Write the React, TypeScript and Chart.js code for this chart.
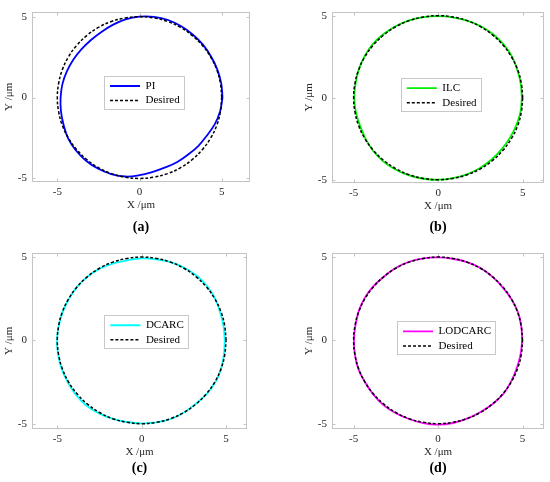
import React, { useEffect, useRef } from 'react';
import { Chart, registerables } from 'chart.js';

Chart.register(...registerables);

// ---------- data ----------
const tickValues = [-5, 0, 5];
const panelLabels = ['(a)', '(b)', '(c)', '(d)'];
const seriesNames = ['PI', 'ILC', 'DCARC', 'LODCARC'];
const desiredName = 'Desired';

const desiredX = [5, 4.92, 4.70, 4.33, 3.83, 3.21, 2.50, 1.71, 0.87, 0, -0.87, -1.71, -2.50, -3.21, -3.83, -4.33, -4.70, -4.92, -5, -4.92, -4.70, -4.33, -3.83, -3.21, -2.50, -1.71, -0.87, 0, 0.87, 1.71, 2.50, 3.21, 3.83, 4.33, 4.70, 4.92];
const desiredY = [0, 0.87, 1.71, 2.50, 3.21, 3.83, 4.33, 4.70, 4.92, 5, 4.92, 4.70, 4.33, 3.83, 3.21, 2.50, 1.71, 0.87, 0, -0.87, -1.71, -2.50, -3.21, -3.83, -4.33, -4.70, -4.92, -5, -4.92, -4.70, -4.33, -3.83, -3.21, -2.50, -1.71, -0.87];

const piX = [5.05, 4.97, 4.74, 4.36, 3.87, 3.25, 2.54, 1.74, 0.88, 0, -0.85, -1.63, -2.34, -2.97, -3.54, -4.03, -4.42, -4.69, -4.80, -4.78, -4.62, -4.35, -3.88, -3.27, -2.54, -1.72, -0.86, 0, 0.81, 1.57, 2.30, 2.96, 3.57, 4.09, 4.57, 4.90];
const piY = [0, 0.88, 1.72, 2.52, 3.25, 3.88, 4.40, 4.79, 4.99, 5.00, 4.83, 4.49, 4.04, 3.54, 2.97, 2.33, 1.61, 0.83, 0, -0.84, -1.68, -2.51, -3.26, -3.89, -4.39, -4.73, -4.88, -4.80, -4.59, -4.32, -3.98, -3.52, -3.00, -2.36, -1.66, -0.86];

const ilcX = [4.95, 4.88, 4.68, 4.36, 3.87, 3.25, 2.52, 1.71, 0.86, 0, -0.87, -1.72, -2.52, -3.25, -3.88, -4.36, -4.70, -4.89, -4.96, -4.87, -4.63, -4.30, -3.85, -3.25, -2.53, -1.72, -0.87, 0, 0.86, 1.70, 2.48, 3.16, 3.75, 4.24, 4.62, 4.87];
const ilcY = [0, 0.86, 1.70, 2.52, 3.25, 3.87, 4.36, 4.70, 4.90, 4.98, 4.91, 4.72, 4.36, 3.87, 3.25, 2.52, 1.71, 0.86, 0, -0.86, -1.69, -2.49, -3.23, -3.88, -4.38, -4.74, -4.94, -5.00, -4.90, -4.67, -4.29, -3.77, -3.15, -2.45, -1.68, -0.86];

const dcarcX = [4.92, 4.85, 4.65, 4.35, 3.88, 3.26, 2.52, 1.71, 0.86, 0, -0.85, -1.68, -2.49, -3.21, -3.83, -4.31, -4.68, -4.92, -5.02, -4.95, -4.74, -4.37, -3.89, -3.28, -2.53, -1.71, -0.86, 0, 0.87, 1.72, 2.50, 3.20, 3.84, 4.36, 4.70, 4.87];
const dcarcY = [0, 0.85, 1.69, 2.51, 3.25, 3.88, 4.36, 4.70, 4.87, 4.92, 4.81, 4.62, 4.31, 3.83, 3.21, 2.49, 1.70, 0.87, 0, -0.87, -1.72, -2.53, -3.27, -3.91, -4.38, -4.71, -4.90, -4.98, -4.92, -4.72, -4.33, -3.81, -3.22, -2.52, -1.71, -0.86];

const lodcarcX = [4.98, 4.92, 4.72, 4.33, 3.81, 3.21, 2.51, 1.71, 0.86, 0, -0.87, -1.72, -2.51, -3.21, -3.85, -4.36, -4.71, -4.90, -4.98, -4.92, -4.72, -4.33, -3.85, -3.25, -2.52, -1.72, -0.88, 0, 0.88, 1.71, 2.49, 3.21, 3.85, 4.31, 4.65, 4.88];
const lodcarcY = [0, 0.87, 1.72, 2.50, 3.20, 3.83, 4.35, 4.70, 4.90, 4.98, 4.92, 4.72, 4.34, 3.82, 3.23, 2.52, 1.71, 0.86, 0, -0.87, -1.72, -2.50, -3.23, -3.87, -4.36, -4.72, -4.97, -5.06, -4.96, -4.70, -4.31, -3.83, -3.23, -2.49, -1.69, -0.86];

// ---------- styles / layout ----------
const FONT = "'Liberation Serif', 'Times New Roman', serif";
const seriesColors = ['#0000ff', '#00ee00', '#00ffff', '#ff00ff'];
const seriesXs = [piX, ilcX, dcarcX, lodcarcX];
const seriesYs = [piY, ilcY, dcarcY, lodcarcY];

type Layout = {
  left: number; top: number;
  area: { l: number; t: number; r: number; b: number };
  xr: [number, number]; yr: [number, number];
  legendAt: [number, number];
  labelPad: number;
};

const layouts: Layout[] = [
  { left: 0, top: 0, area: { l: 32, t: 10, r: 250, b: 182 }, xr: [-6.54, 6.72], yr: [-5.22, 5.31], legendAt: [-2.16, 1.33], labelPad: 7.4 },
  { left: 275, top: 0, area: { l: 57, t: 5, r: 269, b: 183 }, xr: [-6.28, 6.26], yr: [-5.2, 5.25], legendAt: [-2.21, 1.19], labelPad: 6.4 },
  { left: 0, top: 241, area: { l: 32, t: 9, r: 247, b: 188 }, xr: [-6.5, 6.24], yr: [-5.32, 5.27], legendAt: [-2.21, 1.51], labelPad: 1.2 },
  { left: 275, top: 241, area: { l: 57, t: 9, r: 269, b: 188 }, xr: [-6.28, 6.27], yr: [-5.32, 5.27], legendAt: [-2.43, 1.14], labelPad: 1.2 },
];

const W = 275;
const H = 241;
const X_SCALE_H = 30;
const Y_SCALE_W = 32;
const LABEL_LINE = 14 * 1.2;

function toPoints(xs: number[], ys: number[]) {
  const pts = xs.map((x, i) => ({ x, y: ys[i] }));
  pts.push({ x: xs[0], y: ys[0] });
  return pts;
}

function makeFramePlugin(lay: Layout) {
  return {
    id: 'matlabFrame',
    afterLayout(chart: any) {
      const lg = chart.legend;
      if (!lg) return;
      const pad = lg.options.labels.padding;
      const bx = chart.scales.x.getPixelForValue(lay.legendAt[0]);
      const by = chart.scales.y.getPixelForValue(lay.legendAt[1]);
      lg.left = bx + 6 - pad;
      lg.top = by + 4.5 - pad;
      lg.right = lg.left + lg.width + 60;
      lg.bottom = lg.top + lg.height + 60;
    },
    beforeDraw(chart: any) {
      const lg = chart.legend;
      const hb = lg && lg.legendHitBoxes;
      if (!hb || !hb.length) return;
      const ctx = chart.ctx;
      const left = Math.round(hb[0].left - 6) + 0.5;
      const top = Math.round(hb[0].top - 4.5) + 0.5;
      let right = 0;
      hb.forEach((h: any) => { right = Math.max(right, h.left + h.width); });
      right = Math.round(right + 4) + 0.5;
      const last = hb[hb.length - 1];
      const bottom = Math.round(last.top + 13.5) + 0.5;
      ctx.save();
      ctx.fillStyle = '#ffffff';
      ctx.fillRect(left, top, right - left, bottom - top);
      ctx.strokeStyle = '#c8c8c8';
      ctx.lineWidth = 1;
      ctx.strokeRect(left, top, right - left, bottom - top);
      ctx.restore();
    },
    beforeDatasetsDraw(chart: any) {
      const { ctx, chartArea: a, scales } = chart;
      const l = Math.round(a.left) + 0.5;
      const t = Math.round(a.top) + 0.5;
      const r = Math.round(a.right) - 0.5;
      const b = Math.round(a.bottom) - 0.5;
      ctx.save();
      ctx.strokeStyle = '#c4c4c4';
      ctx.lineWidth = 1;
      ctx.strokeRect(l, t, r - l, b - t);
      ctx.beginPath();
      const tl = 3;
      scales.x.ticks.forEach((tk: any) => {
        const px = Math.round(scales.x.getPixelForValue(tk.value)) + 0.5;
        ctx.moveTo(px, b); ctx.lineTo(px, b - tl);
        ctx.moveTo(px, t); ctx.lineTo(px, t + tl);
      });
      scales.y.ticks.forEach((tk: any) => {
        const py = Math.round(scales.y.getPixelForValue(tk.value)) + 0.5;
        ctx.moveTo(l, py); ctx.lineTo(l + tl, py);
        ctx.moveTo(r, py); ctx.lineTo(r - tl, py);
      });
      ctx.stroke();
      ctx.restore();
    },
  };
}

function makeConfig(i: number): any {
  const lay = layouts[i];
  const titleH = LABEL_LINE + lay.labelPad;
  const padBottom = H - lay.area.b - X_SCALE_H - titleH;
  const tickFont = { family: FONT, size: 11 };
  return {
    type: 'scatter',
    data: {
      datasets: [
        {
          label: seriesNames[i],
          data: toPoints(seriesXs[i], seriesYs[i]),
          showLine: true,
          borderColor: seriesColors[i],
          backgroundColor: seriesColors[i],
          borderWidth: 1.8,
          pointRadius: 0,
          tension: 0.4,
          order: 1,
        },
        {
          label: desiredName,
          data: toPoints(desiredX, desiredY),
          showLine: true,
          borderColor: '#000000',
          backgroundColor: '#000000',
          borderWidth: 1.5,
          borderDash: [3, 2],
          pointRadius: 0,
          tension: 0.4,
          order: 0,
        },
      ],
    },
    options: {
      responsive: false,
      animation: false,
      events: [],
      devicePixelRatio: 1,
      layout: {
        padding: {
          left: lay.area.l - Y_SCALE_W,
          top: lay.area.t,
          right: W - lay.area.r,
          bottom: padBottom,
        },
      },
      scales: {
        x: {
          type: 'linear',
          position: 'bottom',
          min: lay.xr[0],
          max: lay.xr[1],
          afterBuildTicks: (s: any) => { s.ticks = tickValues.map((v) => ({ value: v })); },
          afterFit: (s: any) => { s.height = X_SCALE_H; },
          grid: { display: false, drawTicks: false },
          border: { display: false },
          ticks: { padding: 4, font: tickFont, color: '#262626', maxRotation: 0, callback: (v: any) => String(v) },
          title: { display: true, text: 'X /μm', font: { family: FONT, size: 11 }, color: '#262626', padding: { top: 0, bottom: 0 } },
        },
        y: {
          type: 'linear',
          position: 'left',
          min: lay.yr[0],
          max: lay.yr[1],
          afterBuildTicks: (s: any) => { s.ticks = tickValues.map((v) => ({ value: v })); },
          afterFit: (s: any) => { s.width = Y_SCALE_W; },
          grid: { display: false, drawTicks: false },
          border: { display: false },
          ticks: { padding: 5, font: tickFont, color: '#262626', callback: (v: any) => String(v) },
          title: { display: true, text: 'Y /μm', font: { family: FONT, size: 11 }, color: '#262626', padding: { top: 2.5, bottom: 0 } },
        },
      },
      plugins: {
        tooltip: { enabled: false },
        title: {
          display: true,
          text: panelLabels[i],
          position: 'bottom',
          fullSize: false,
          color: '#000000',
          font: { family: FONT, size: 14, weight: 'bold' },
          padding: { top: lay.labelPad, bottom: 0 },
        },
        legend: {
          display: true,
          position: 'chartArea',
          align: 'start',
          labels: {
            usePointStyle: true,
            pointStyle: 'line',
            pointStyleWidth: 30,
            boxWidth: 30,
            padding: 3.5,
            color: '#000000',
            font: { family: FONT, size: 11 },
            sort: (a: any, b: any) => a.datasetIndex - b.datasetIndex,
            generateLabels: (chart: any) => {
              const items = (Chart as any).defaults.plugins.legend.labels.generateLabels(chart);
              return items.map((it: any) => {
                const ds = chart.data.datasets[it.datasetIndex];
                return {
                  ...it,
                  lineDash: ds.borderDash || [],
                  lineWidth: ds.borderWidth,
                  strokeStyle: ds.borderColor,
                  pointStyle: 'line',
                };
              });
            },
          },
        },
      },
    },
    plugins: [makeFramePlugin(lay)],
  };
}

function Panel({ index }: { index: number }) {
  const ref = useRef<HTMLCanvasElement>(null);
  useEffect(() => {
    const chart = new Chart(ref.current as HTMLCanvasElement, makeConfig(index));
    return () => chart.destroy();
  }, [index]);
  const lay = layouts[index];
  return (
    <canvas
      ref={ref}
      width={W}
      height={H}
      style={{ position: 'absolute', left: lay.left, top: lay.top, width: W, height: H }}
    />
  );
}

export default function App() {
  return (
    <div style={{ position: 'absolute', left: 0, top: 0, width: 550, height: 482, background: '#ffffff' }}>
      {layouts.map((_, i) => (
        <Panel key={i} index={i} />
      ))}
    </div>
  );
}
